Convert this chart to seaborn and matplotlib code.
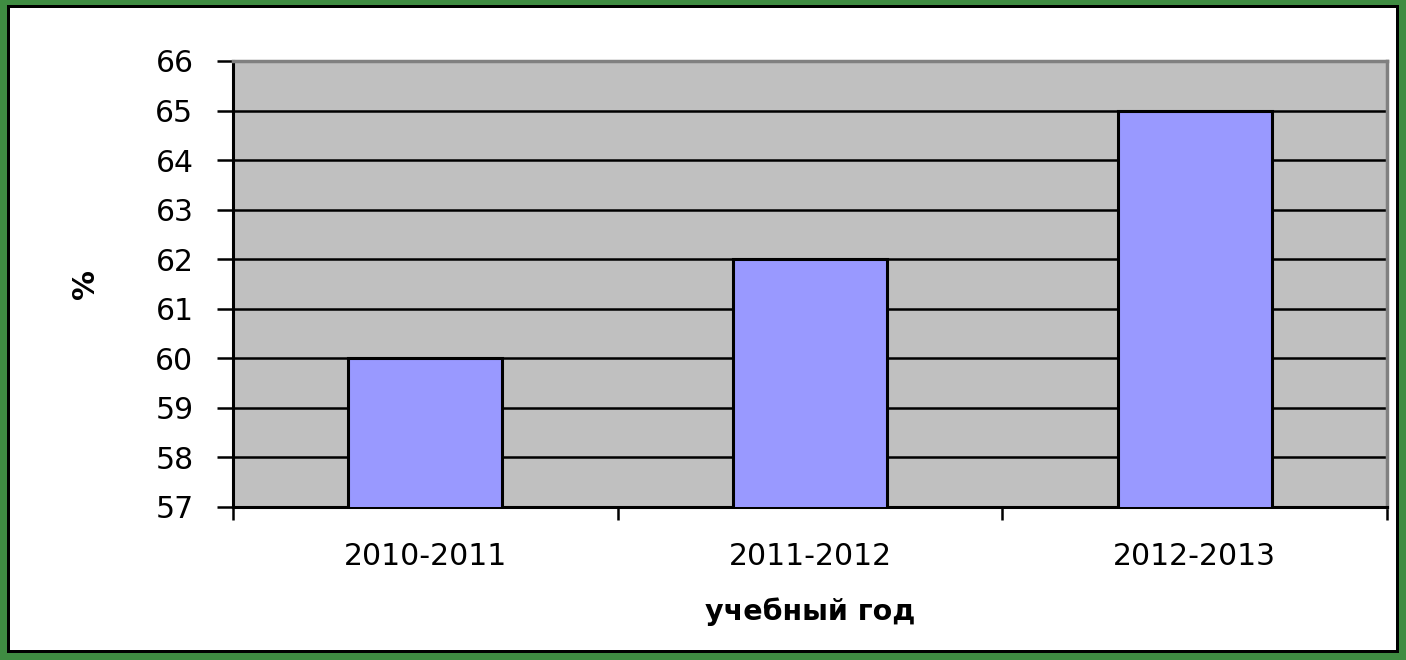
import matplotlib
matplotlib.use("Agg")
import matplotlib.pyplot as plt
import matplotlib.patches as mpatches
import pandas as pd
import seaborn as sns

# data
years = ["2010-2011", "2011-2012", "2012-2013"]
percent = [60, 62, 65]
y_ticks = [57, 58, 59, 60, 61, 62, 63, 64, 65, 66]

df = pd.DataFrame({"year": years, "percent": percent})

sns.set_style("white")
plt.rcParams["font.family"] = ["DejaVu Sans"]
plt.rcParams["text.color"] = "black"
plt.rcParams["axes.labelcolor"] = "black"
plt.rcParams["xtick.color"] = "black"
plt.rcParams["ytick.color"] = "black"

fig = plt.figure(figsize=(14.06, 6.6), dpi=100)
W, H = 1406, 660

# green frame + thin black inner line
fig.patches.append(mpatches.Rectangle((0, 0), 1, 1, transform=fig.transFigure,
                                      facecolor="#3f8c42", edgecolor="none", zorder=-3))
fig.patches.append(mpatches.Rectangle((7 / W, 7 / H), 1 - 14 / W, 1 - 12 / H,
                                      transform=fig.transFigure,
                                      facecolor="black", edgecolor="none", zorder=-2))
fig.patches.append(mpatches.Rectangle((10 / W, 10 / H), 1 - 20 / W, 1 - 18 / H,
                                      transform=fig.transFigure,
                                      facecolor="white", edgecolor="none", zorder=-1))

ax = fig.add_axes([233 / W, 1 - 507 / H, (1387 - 233) / W, (507 - 61) / H])
ax.set_facecolor("#c0c0c0")

sns.barplot(data=df, x="year", y="percent", color="#9999ff", saturation=1,
            width=0.4, edgecolor="black", linewidth=2.2, ax=ax, zorder=3)

ax.set_ylim(57, 66)
ax.set_xlim(-0.5, 2.5)
ax.set_yticks(y_ticks)
ax.tick_params(axis="y", left=True, direction="out", length=11.5, width=1.8,
               labelsize=21.5, pad=17)
ax.yaxis.grid(True, color="black", linewidth=1.8, zorder=0)
ax.set_axisbelow(True)

# category ticks on boundaries, labels centered
ax.set_xticks([-0.5, 0.5, 1.5, 2.5])
ax.set_xticklabels([])
ax.tick_params(axis="x", which="major", bottom=True, direction="out", length=9, width=1.8)
ax.set_xticks([0, 1, 2], minor=True)
ax.set_xticklabels(years, minor=True)
ax.tick_params(axis="x", which="minor", bottom=True, length=0, labelsize=21.5, pad=25)

for s in ["left", "bottom"]:
    ax.spines[s].set_color("black")
    ax.spines[s].set_linewidth(2.2)
for s in ["top", "right"]:
    ax.spines[s].set_color("#808080")
    ax.spines[s].set_linewidth(2.5)

ax.set_xlabel("учебный год", fontsize=20.5, fontweight="bold", labelpad=19)
ax.set_ylabel("%", fontsize=21.5, fontweight="bold", labelpad=40)

fig.savefig("out.png", dpi=100)
